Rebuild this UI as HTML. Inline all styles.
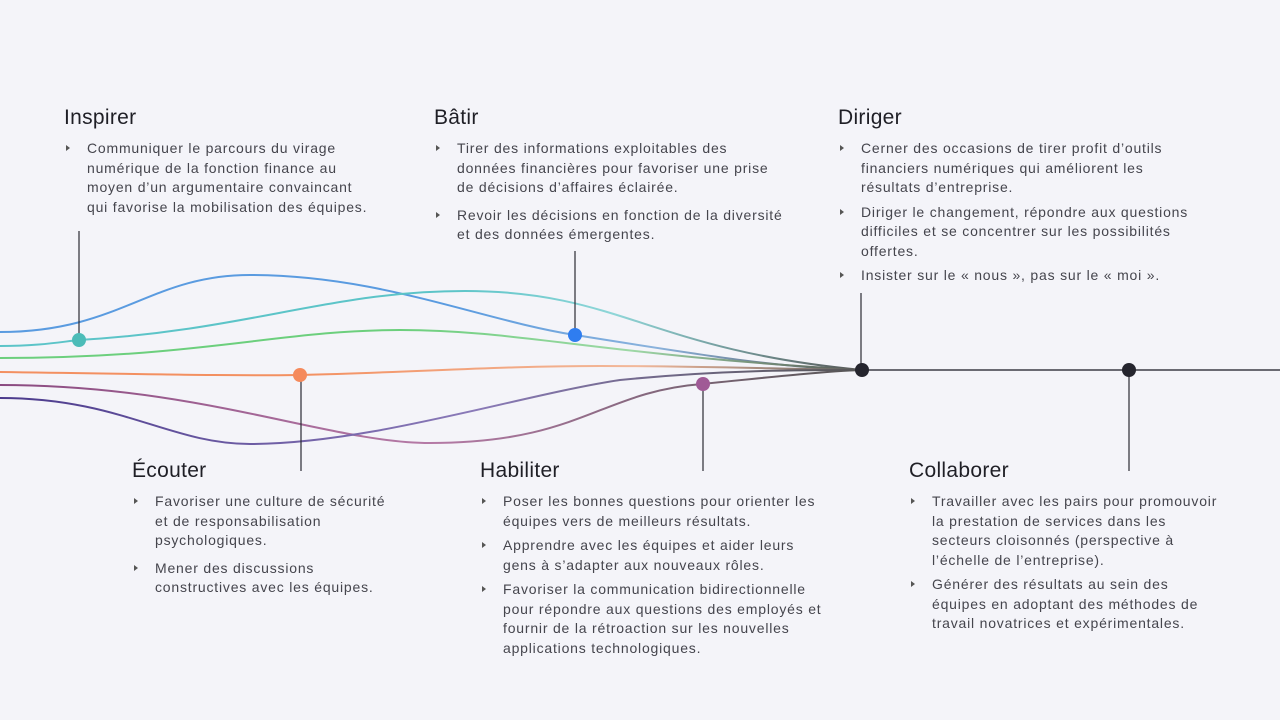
<!DOCTYPE html>
<html><head><meta charset="utf-8">
<style>
body{margin:0;width:1280px;height:720px;background:#f4f4f9;position:relative;overflow:hidden;font-family:"Liberation Sans",sans-serif;color:#45454d}
.h{position:absolute;font-size:21px;color:#1f1f26;letter-spacing:0.3px}
.b{position:absolute;font-size:14px;line-height:19.5px;letter-spacing:0.8px;white-space:nowrap}
.b div{position:relative;padding-left:23px;margin-bottom:8px}
.b div:before{content:"";position:absolute;left:2px;top:6px;border-left:4px solid #555;border-top:3px solid transparent;border-bottom:3px solid transparent}
svg{position:absolute;left:0;top:0}
</style></head><body>
<svg width="1280" height="720">
<defs>
<linearGradient id="g1" gradientUnits="userSpaceOnUse" x1="450" y1="0" x2="862" y2="0"><stop offset="0" stop-color="#5a9be0"/><stop offset="0.5" stop-color="#8ab2dc"/><stop offset="1" stop-color="#555"/></linearGradient>
<linearGradient id="g2" gradientUnits="userSpaceOnUse" x1="450" y1="0" x2="862" y2="0"><stop offset="0" stop-color="#5cc4c8"/><stop offset="0.4" stop-color="#8fd6d8"/><stop offset="1" stop-color="#555"/></linearGradient>
<linearGradient id="g3" gradientUnits="userSpaceOnUse" x1="400" y1="0" x2="862" y2="0"><stop offset="0" stop-color="#6ccf7d"/><stop offset="0.5" stop-color="#9ed8a6"/><stop offset="1" stop-color="#555"/></linearGradient>
<linearGradient id="g4" gradientUnits="userSpaceOnUse" x1="300" y1="0" x2="862" y2="0"><stop offset="0" stop-color="#f39061"/><stop offset="0.6" stop-color="#f2b89a"/><stop offset="1" stop-color="#666"/></linearGradient>
<linearGradient id="g5" gradientUnits="userSpaceOnUse" x1="0" y1="0" x2="862" y2="0"><stop offset="0" stop-color="#8a4a80"/><stop offset="0.5" stop-color="#b57aa6"/><stop offset="1" stop-color="#555"/></linearGradient>
<linearGradient id="g6" gradientUnits="userSpaceOnUse" x1="0" y1="0" x2="862" y2="0"><stop offset="0" stop-color="#4b3a8c"/><stop offset="0.55" stop-color="#8a7ab8"/><stop offset="1" stop-color="#555"/></linearGradient>
</defs>
<g fill="none" stroke-width="2">
<path d="M0,332 C120,332 150,275 250,275 C380,275 480,320 575,335 C700,355 780,368 862,370" stroke="url(#g1)"/>
<path d="M0,346 C40,346 60,342 79,340 C250,330 330,291 465,291 C620,291 650,350 862,370" stroke="url(#g2)"/>
<path d="M0,358 C200,358 280,330 400,330 C520,330 600,355 862,370" stroke="url(#g3)"/>
<path d="M0,372 C150,374 220,376 300,375 C420,372 500,366 600,366 C700,366 780,369 862,370" stroke="url(#g4)"/>
<path d="M0,385 C200,385 330,443 430,443 C580,443 600,392 702,384 C780,376 830,371 862,370" stroke="url(#g5)"/>
<path d="M0,398 C120,398 170,444 250,444 C370,444 520,395 620,380 C720,370 800,370 862,370" stroke="url(#g6)"/>
</g>
<g stroke="#2a2a33" stroke-width="1.2">
<line x1="79" y1="231" x2="79" y2="340"/>
<line x1="575" y1="251" x2="575" y2="335"/>
<line x1="861" y1="293" x2="861" y2="370"/>
<line x1="301" y1="375" x2="301" y2="471"/>
<line x1="703" y1="384" x2="703" y2="471"/>
<line x1="1129" y1="370" x2="1129" y2="471"/>
</g>
<line x1="862" y1="370" x2="1280" y2="370" stroke="#6a6a72" stroke-width="2"/>
<circle cx="79" cy="340" r="7" fill="#4cbcb8"/>
<circle cx="575" cy="335" r="7" fill="#2f7df0"/>
<circle cx="300" cy="375" r="7" fill="#f58a5c"/>
<circle cx="703" cy="384" r="7" fill="#a05a96"/>
<circle cx="862" cy="370" r="7" fill="#25252e"/>
<circle cx="1129" cy="370" r="7" fill="#25252e"/>
</svg>

<div class="h" style="left:64px;top:106px">Inspirer</div>
<div class="b" style="left:64px;top:139px"><div>Communiquer le parcours du virage<br>numérique de la fonction finance au<br>moyen d’un argumentaire convaincant<br>qui favorise la mobilisation des équipes.</div></div>

<div class="h" style="left:434px;top:106px">Bâtir</div>
<div class="b" style="left:434px;top:139px"><div>Tirer des informations exploitables des<br>données financières pour favoriser une prise<br>de décisions d’affaires éclairée.</div><div>Revoir les décisions en fonction de la diversité<br>et des données émergentes.</div></div>

<div class="h" style="left:838px;top:106px">Diriger</div>
<div class="b" style="left:838px;top:139px"><div style="margin-bottom:5px">Cerner des occasions de tirer profit d’outils<br>financiers numériques qui améliorent les<br>résultats d’entreprise.</div><div style="margin-bottom:5px">Diriger le changement, répondre aux questions<br>difficiles et se concentrer sur les possibilités<br>offertes.</div><div>Insister sur le « nous », pas sur le « moi ».</div></div>

<div class="h" style="left:132px;top:459px">Écouter</div>
<div class="b" style="left:132px;top:492px"><div>Favoriser une culture de sécurité<br>et de responsabilisation<br>psychologiques.</div><div>Mener des discussions<br>constructives avec les équipes.</div></div>

<div class="h" style="left:480px;top:459px">Habiliter</div>
<div class="b" style="left:480px;top:492px"><div style="margin-bottom:5px">Poser les bonnes questions pour orienter les<br>équipes vers de meilleurs résultats.</div><div style="margin-bottom:5px">Apprendre avec les équipes et aider leurs<br>gens à s’adapter aux nouveaux rôles.</div><div>Favoriser la communication bidirectionnelle<br>pour répondre aux questions des employés et<br>fournir de la rétroaction sur les nouvelles<br>applications technologiques.</div></div>

<div class="h" style="left:909px;top:459px">Collaborer</div>
<div class="b" style="left:909px;top:492px"><div style="margin-bottom:5px">Travailler avec les pairs pour promouvoir<br>la prestation de services dans les<br>secteurs cloisonnés (perspective à<br>l’échelle de l’entreprise).</div><div>Générer des résultats au sein des<br>équipes en adoptant des méthodes de<br>travail novatrices et expérimentales.</div></div>
</body></html>
